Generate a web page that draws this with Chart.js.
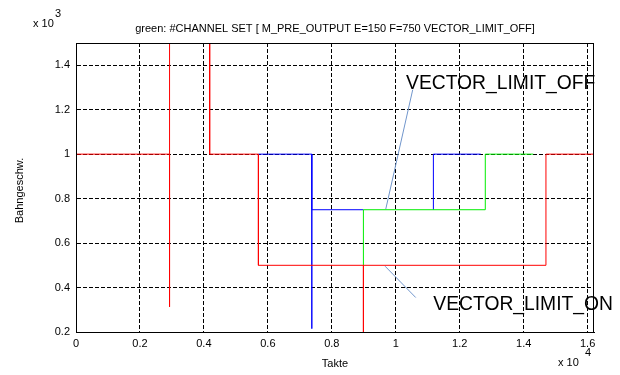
<!DOCTYPE html>
<html>
<head>
<meta charset="utf-8">
<script src="https://cdn.jsdelivr.net/npm/chart.js@4/dist/chart.umd.min.js"></script>
<style>
  body { margin: 0; background: #fff; }
  #wrap { width: 620px; height: 375px; }
</style>
</head>
<body>
<div id="wrap"><canvas id="chart" width="620" height="375"></canvas></div>
<script>
// tick positions (raw units, shown scaled by 1e4 / 1e3)
const xTicks = [0, 2000, 4000, 6000, 8000, 10000, 12000, 14000, 16000];
const yTicks = [200, 400, 600, 800, 1000, 1200, 1400];

// red trace
const redX = [0, 0, 2926, 2926, 2926, 4180, 4180, 5705, 5705, 8988, 8988, 8988, 14697, 14697, 16200];
const redY = [240, 1000, 1000, 313, 1600, 1600, 1000, 1000, 500, 500, 150, 500, 500, 1000, 1000];

// blue trace (null = gap)
const blueX = [5705, 7375, 7375, 7375, 8988, 9000, 11177, 11177, 12656];
const blueY = [1000, 1000, 215, 750, 750, null, 750, 1000, 1000];

// green trace
const greenX = [8988, 8988, 12800, 12800, 14300];
const greenY = [500, 750, 750, 1000, 1000];

// annotation pointer lines
const offLineX = [10531, 9688];
const offLineY = [1290, 753];
const onLineX = [9666, 10625];
const onLineY = [496, 355];

const titleText = 'green: #CHANNEL SET [ M_PRE_OUTPUT E=150 F=750 VECTOR_LIMIT_OFF]';
const notes = [
    { text: 'VECTOR_LIMIT_OFF', x: 10322, y: 1294 },
    { text: 'VECTOR_LIMIT_ON', x: 11175, y: 298 }
];

function toPoints(xs, ys) {
    return xs.map((x, i) => ({ x: x, y: ys[i] }));
}

function fmt(v, div) {
    return String(Number((v / div).toFixed(1)));
}

const FONT = '"Liberation Sans", Arial, sans-serif';

const framePlugin = {
    id: 'frame',
    afterDraw(chart) {
        const ctx = chart.ctx;
        const a = chart.chartArea;
        const xs = chart.scales.x;
        const ys = chart.scales.y;
        ctx.save();
        // box
        ctx.strokeStyle = '#000';
        ctx.lineWidth = 1;
        ctx.strokeRect(Math.round(a.left) + 0.5, Math.round(a.top) + 0.5,
            Math.round(a.right - a.left) - 1, Math.round(a.bottom - a.top));

        ctx.fillStyle = '#000';
        ctx.textBaseline = 'alphabetic';

        // title
        ctx.font = '11px ' + FONT;
        ctx.textAlign = 'center';
        ctx.fillText(titleText, (a.left + a.right) / 2, 32);

        // axis titles
        ctx.fillText('Takte', (a.left + a.right) / 2, 367);
        ctx.save();
        ctx.translate(23, (a.top + a.bottom) / 2 + 3);
        ctx.rotate(-Math.PI / 2);
        ctx.fillText('Bahngeschw.', 0, 0);
        ctx.restore();

        // exponent labels
        ctx.textAlign = 'left';
        ctx.fillText('x 10', 33, 27);
        ctx.fillText('3', 55, 17);
        ctx.fillText('x 10', 558, 366);
        ctx.fillText('4', 585, 356);

        // annotation texts
        ctx.font = '19.3px ' + FONT;
        notes.forEach(n => {
            ctx.fillText(n.text, xs.getPixelForValue(n.x), ys.getPixelForValue(n.y));
        });
        ctx.restore();
    }
};

function lineSet(data, color, order) {
    return {
        data: data,
        borderColor: color,
        backgroundColor: color,
        borderWidth: 1,
        pointRadius: 0,
        showLine: true,
        spanGaps: false,
        tension: 0,
        order: order
    };
}

new Chart(document.getElementById('chart'), {
    type: 'scatter',
    data: {
        datasets: [
            lineSet(toPoints(redX, redY), '#ff0000', 1),
            lineSet(toPoints(greenX, greenY), '#00ee00', 2),
            lineSet(toPoints(blueX, blueY), '#0000ff', 3),
            lineSet(toPoints(offLineX, offLineY), '#7196cc', 4),
            lineSet(toPoints(onLineX, onLineY), '#7196cc', 5)
        ]
    },
    options: {
        responsive: false,
        devicePixelRatio: 1,
        animation: false,
        layout: { padding: { left: 0, right: 26, top: 43, bottom: 0 } },
        plugins: {
            legend: { display: false },
            tooltip: { enabled: false },
            title: { display: false }
        },
        scales: {
            x: {
                type: 'linear',
                min: 0,
                max: 16200,
                afterBuildTicks: s => { s.ticks = xTicks.map(v => ({ value: v })); },
                afterFit: s => { s.height = 43; },
                grid: { color: '#000', lineWidth: 1, drawTicks: false },
                border: { display: true, color: '#000', dash: [4, 2] },
                ticks: {
                    padding: 5,
                    color: '#000',
                    maxRotation: 0,
                    autoSkip: false,
                    font: { family: FONT, size: 11 },
                    callback: v => fmt(v, 10000)
                }
            },
            y: {
                type: 'linear',
                min: 200,
                max: 1500,
                afterBuildTicks: s => { s.ticks = yTicks.map(v => ({ value: v })); },
                afterFit: s => { s.width = 76; },
                grid: { color: '#000', lineWidth: 1, drawTicks: false },
                border: { display: true, color: '#000', dash: [4, 2] },
                ticks: {
                    padding: 6,
                    color: '#000',
                    autoSkip: false,
                    font: { family: FONT, size: 11 },
                    callback: v => fmt(v, 1000)
                }
            }
        }
    },
    plugins: [framePlugin]
});
</script>
</body>
</html>
